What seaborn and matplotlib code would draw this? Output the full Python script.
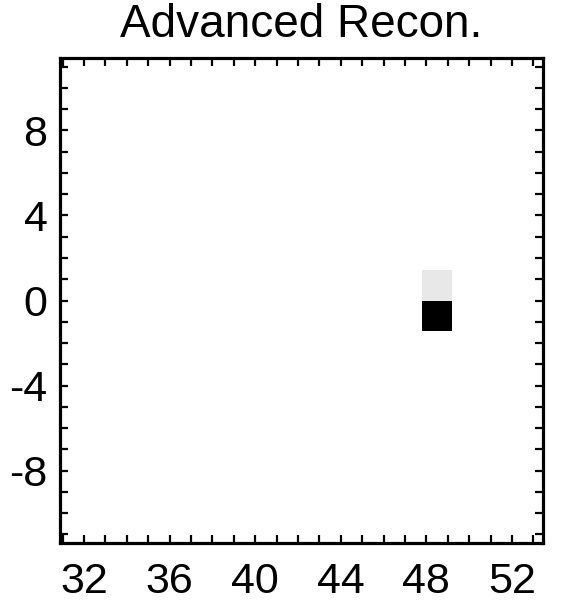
import numpy as np
import pandas as pd
import matplotlib
matplotlib.use("Agg")
import matplotlib.pyplot as plt
from matplotlib.ticker import MultipleLocator
import seaborn as sns

# reconstructed pixels (cell centres) and their intensity
pix_x = [48.55, 48.55]
pix_y = [0.71, -0.71]
pix_val = [0.09, 1.0]

x_ticks = [32, 36, 40, 44, 48, 52]
y_ticks = [-8, -4, 0, 4, 8]
title = "Advanced Recon."

# 16 x 16 reconstruction grid
x_edges = np.linspace(30.88, 53.45, 17)
y_edges = np.linspace(-11.4, 11.4, 17)

df = pd.DataFrame({"x": pix_x, "y": pix_y, "val": pix_val})

sns.set_style("white")
plt.rcParams["font.family"] = ["Liberation Sans", "DejaVu Sans"]
plt.rcParams["text.color"] = "black"
plt.rcParams["xtick.color"] = "black"
plt.rcParams["ytick.color"] = "black"

fig = plt.figure(figsize=(5.68, 6.03), dpi=100)
ax = fig.add_axes([60 / 568, 1 - 543 / 603, 483 / 568, 485 / 603])

sns.histplot(data=df, x="x", y="y", weights="val", bins=[x_edges, y_edges],
             cmap="gray_r", vmin=0, vmax=1, ax=ax)

ax.set_xlim(x_edges[0], x_edges[-1])
ax.set_ylim(y_edges[0], y_edges[-1])
ax.set_xticks(x_ticks)
ax.set_yticks(y_ticks)
ax.set_xticklabels([str(t) for t in x_ticks])
ax.set_yticklabels([str(t) for t in y_ticks])
ax.xaxis.set_minor_locator(MultipleLocator(1))
ax.yaxis.set_minor_locator(MultipleLocator(1))
ax.tick_params(which="both", direction="in", top=True, right=True,
               bottom=True, left=True, length=5.5, width=1.6,
               color="black", labelcolor="black")
ax.tick_params(axis="x", which="major", labelsize=31, pad=14)
ax.tick_params(axis="y", which="major", labelsize=31, pad=9)
ax.set_xlabel("")
ax.set_ylabel("")
for sp in ax.spines.values():
    sp.set_visible(True)
    sp.set_linewidth(2.3)
    sp.set_color("black")

ax.set_title(title, fontsize=33, pad=15, color="black")

fig.savefig("out.png", dpi=100)
